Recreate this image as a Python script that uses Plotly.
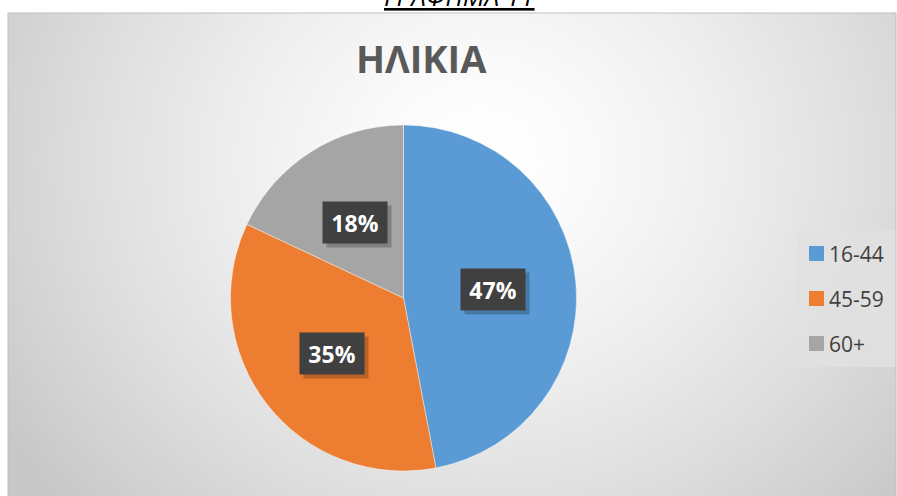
import numpy as np
import plotly.graph_objects as go

# data
labels = ['16-44', '45-59', '60+']
values = [47, 35, 18]
colors = ['#5B9BD5', '#ED7D31', '#A5A5A5']
title_text = 'ΗΛΙΚΙΑ'
caption = 'ΓΡΑΦΗΜΑ 11'

W, H = 897, 496
FONT = 'Open Sans, Noto Sans, DejaVu Sans, sans-serif'


def px(x, y):
    # pixel -> paper coords
    return x / W, 1 - y / H


fig = go.Figure()

# background gradient (chart area), drawn as a smooth heatmap
gx = np.linspace(8, 896, 60)
gy = np.linspace(13, 496, 40)
XX, YY = np.meshgrid(gx, gy)
dist = np.sqrt(((XX - 480) / 1.0) ** 2 + ((YY - 160) / 0.9) ** 2)
shade = 255 - 55 * np.clip(dist / 560, 0, 1) ** 1.4
fig.add_trace(go.Heatmap(
    x=gx, y=gy, z=shade, zsmooth='best', showscale=False, hoverinfo='skip',
    colorscale=[[0, 'rgb(0,0,0)'], [1, 'rgb(255,255,255)']], zmin=0, zmax=255,
    xaxis='x', yaxis='y'))

# pie
cx, cy, r = 403.5, 298, 173
x0, y1 = px(cx - r, cy - r)
x1, y0 = px(cx + r, cy + r)
fig.add_trace(go.Pie(
    labels=labels, values=values, sort=False, direction='clockwise', rotation=0,
    marker=dict(colors=colors, line=dict(color='rgba(255,255,255,0.4)', width=1)),
    textinfo='none', hoverinfo='label+percent', showlegend=False,
    domain=dict(x=[x0, x1], y=[y0, y1])))

# data labels in dark boxes
annotations = []
total = sum(values)
cum = 0
for v in values:
    mid = (cum + v / 2) / total * 2 * np.pi
    cum += v
    lx = cx + 0.52 * r * np.sin(mid)
    ly = cy - 0.52 * r * np.cos(mid)
    sx, sy = px(lx + 4, ly + 4)
    annotations.append(dict(
        x=sx, y=sy, xref='paper', yref='paper', xanchor='center', yanchor='middle',
        text=' ', showarrow=False,
        width=52, height=29, borderpad=6, bgcolor='rgba(0,0,0,0.22)'))
    ax_, ay_ = px(lx, ly)
    annotations.append(dict(
        x=ax_, y=ay_, xref='paper', yref='paper', xanchor='center', yanchor='middle',
        text='<b>%d%%</b>' % round(v / total * 100), showarrow=False,
        width=52, height=29, borderpad=6, bgcolor='#404040',
        font=dict(family=FONT, size=23, color='white')))

# title
tx, ty = px(421, 58)
annotations.append(dict(x=tx, y=ty, xref='paper', yref='paper', xanchor='center', yanchor='middle',
                        text='<b>' + title_text + '</b>', showarrow=False,
                        font=dict(family=FONT, size=38, color='#595959')))

# caption above the chart (cut off by the page)
kx, ky = px(460, -4)
annotations.append(dict(x=kx, y=ky, xref='paper', yref='paper', xanchor='center', yanchor='middle',
                        text='<i><u>' + caption + '</u></i>', showarrow=False,
                        font=dict(family=FONT, size=26, color='black')))

# legend drawn by hand
shapes = []
lx0, ly0 = px(797, 231)
lx1, ly1 = px(896, 367)
shapes.append(dict(type='rect', xref='paper', yref='paper', x0=lx0, y0=ly1, x1=lx1, y1=ly0,
                   fillcolor='rgba(225,225,225,0.85)', line=dict(width=0), layer='above'))
for i, (lab, col) in enumerate(zip(labels, colors)):
    yc = 253.5 + 45 * i
    a0, b0 = px(809, yc - 7.5)
    a1, b1 = px(824, yc + 7.5)
    shapes.append(dict(type='rect', xref='paper', yref='paper', x0=a0, y0=b1, x1=a1, y1=b0,
                       fillcolor=col, line=dict(width=0), layer='above'))
    tx_, ty_ = px(827, yc)
    annotations.append(dict(x=tx_, y=ty_, xref='paper', yref='paper', xanchor='left', yanchor='middle',
                            text=lab, showarrow=False,
                            font=dict(family=FONT, size=21, color='#404040')))

# chart border
bx0, by0 = px(8, 13)
bx1, by1 = px(896, 497)
shapes.append(dict(type='rect', xref='paper', yref='paper', x0=bx0, y0=by1, x1=bx1, y1=by0,
                   line=dict(color='#bfbfbf', width=1), layer='above'))

fig.update_layout(
    width=W, height=H, margin=dict(l=0, r=0, t=0, b=0),
    paper_bgcolor='white', plot_bgcolor='white',
    xaxis=dict(domain=[8 / W, 896 / W], range=[8, 896], visible=False, fixedrange=True),
    yaxis=dict(domain=[0, 1 - 13 / H], range=[496, 13], visible=False, fixedrange=True),
    annotations=annotations, shapes=shapes, showlegend=False,
)

fig.write_html('out.html', config={'displayModeBar': False},
               post_script="document.body.style.margin='0';")
